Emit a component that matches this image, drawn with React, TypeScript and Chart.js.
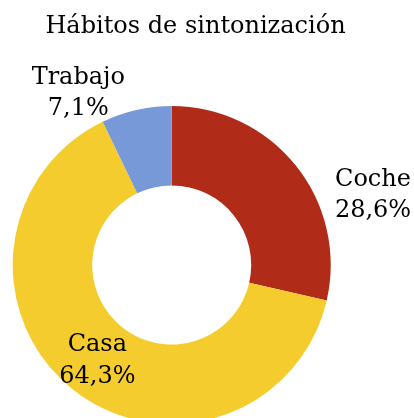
import React, { useEffect, useRef } from "react";
import { Chart, registerables } from "chart.js";

Chart.register(...registerables);

const titleText = "Hábitos de sintonización";
const categories = ["Coche", "Casa", "Trabajo"];
const values = [4, 9, 1];
const colors = ["#B02B18", "#F4CC2E", "#7799D8"];

const FONT_FAMILY = "'DejaVu Serif', serif";
const FONT_SIZE = 24;
const LINE_H = 31.5;

// label placement: radius factor relative to outer radius, plus pixel nudge
const labelPlacement = [
  { rf: 1, dx: 77, dy: 27 },
  { rf: 0.75, dx: 0, dy: 0 },
  { rf: 1, dx: -58, dy: -19 },
];

const labelsPlugin = {
  id: "customLabels",
  afterDraw(chart: any) {
    const ctx = chart.ctx;
    ctx.save();
    ctx.fillStyle = "#000";
    ctx.font = `${FONT_SIZE}px ${FONT_FAMILY}`;
    ctx.textAlign = "center";
    ctx.textBaseline = "alphabetic";
    ctx.fillText(titleText, 195.5, 33);

    const meta = chart.getDatasetMeta(0);
    const data = chart.data.datasets[0].data as number[];
    const total = data.reduce((a, b) => a + b, 0);
    const capH = FONT_SIZE * 0.72;
    meta.data.forEach((arc: any, i: number) => {
      const p = labelPlacement[i];
      const mid = (arc.startAngle + arc.endAngle) / 2;
      const r = arc.outerRadius * p.rf;
      const cx = arc.x + Math.cos(mid) * r + p.dx;
      const cy = arc.y + Math.sin(mid) * r + p.dy;
      const pct = ((data[i] / total) * 100).toFixed(1).replace(".", ",") + "%";
      const b1 = cy - LINE_H / 2 + capH / 2;
      ctx.fillText(chart.data.labels[i], cx, b1);
      ctx.fillText(pct, cx, b1 + LINE_H);
    });
    ctx.restore();
  },
};

export default function App() {
  const ref = useRef<HTMLCanvasElement | null>(null);
  useEffect(() => {
    document.body.style.margin = "0";
    const canvas = ref.current!;
    const chart = new Chart(canvas, {
      type: "doughnut",
      data: {
        labels: categories,
        datasets: [
          {
            data: values,
            backgroundColor: colors,
            borderWidth: 0,
          },
        ],
      },
      options: {
        responsive: false,
        animation: false,
        cutout: "50%",
        layout: { padding: { left: 12.7, right: 83.3, top: 106, bottom: 16 } },
        plugins: {
          legend: { display: false },
          tooltip: { enabled: false },
          title: { display: false },
        },
        events: [],
      },
      plugins: [labelsPlugin],
    });
    return () => chart.destroy();
  }, []);
  return (
    <div style={{ position: "fixed", left: 0, top: 0, width: 414, height: 418, overflow: "hidden", background: "#fff" }}>
      <canvas ref={ref} width={414} height={440} style={{ width: 414, height: 440, display: "block" }} />
    </div>
  );
}
